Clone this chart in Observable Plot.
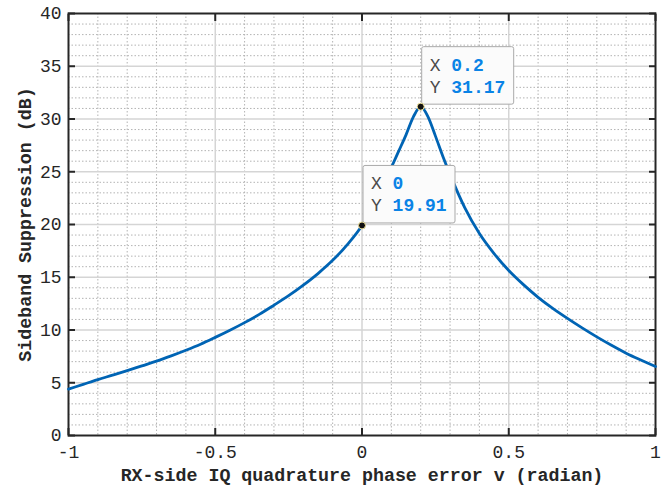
<!DOCTYPE html>
<html>
<head>
<meta charset="utf-8">
<script src="https://cdn.jsdelivr.net/npm/d3@7"></script>
<script src="https://cdn.jsdelivr.net/npm/@observablehq/plot@0.6"></script>
<style>
  html, body { margin: 0; padding: 0; background: #fff; }
  #chart svg { display: block; }
</style>
</head>
<body>
<div id="chart"></div>
<script>
// ---- data ----
const phaseError = [-1, -0.95, -0.9, -0.85, -0.8, -0.75, -0.7, -0.65, -0.6, -0.55, -0.5,
  -0.45, -0.4, -0.35, -0.3, -0.25, -0.2, -0.15, -0.1, -0.05, 0,
  0.05, 0.1, 0.125, 0.15, 0.175, 0.2, 0.225, 0.25, 0.275, 0.3, 0.35, 0.4,
  0.45, 0.5, 0.55, 0.6, 0.65, 0.7, 0.75, 0.8, 0.85, 0.9, 0.95, 1];
const suppression = [4.40, 4.85, 5.30, 5.72, 6.15, 6.60, 7.05, 7.55, 8.08, 8.65, 9.30,
  9.98, 10.70, 11.48, 12.35, 13.25, 14.25, 15.35, 16.60, 18.10, 19.91,
  22.50, 25.40, 26.95, 28.50, 30.20, 31.17, 30.20, 28.40, 26.50, 24.75, 21.60, 19.15,
  17.25, 15.64, 14.30, 13.10, 12.05, 11.10, 10.20, 9.35, 8.55, 7.80, 7.15, 6.54];

const xTicks = [-1, -0.5, 0, 0.5, 1];
const xTickLabels = ["-1", "-0.5", "0", "0.5", "1"];
const yTicks = [0, 5, 10, 15, 20, 25, 30, 35, 40];
const xMajorGrid = [-0.5, 0, 0.5];
const yMajorGrid = [5, 10, 15, 20, 25, 30, 35];
const xMinorGrid = [-0.9, -0.8, -0.7, -0.6, -0.4, -0.3, -0.2, -0.1, 0.1, 0.2, 0.3, 0.4, 0.6, 0.7, 0.8, 0.9];
const yMinorGrid = d3.range(1, 40).filter(v => v % 5 !== 0);

const tipX = [0.2, 0];
const tipY = [31.17, 19.91];
const tipXText = ["0.2", "0"];
const tipYText = ["31.17", "19.91"];

const xTitle = "RX-side IQ quadrature phase error v (radian)";
const yTitle = "Sideband Suppression (dB)";

// ---- tables built from the arrays ----
const curve = phaseError.map((x, i) => ({x, y: suppression[i]}));
const tips = tipX.map((x, i) => ({x, y: tipY[i], xs: tipXText[i], ys: tipYText[i]}));

const font = "'Liberation Mono', 'Courier New', monospace";
const ink = "#262626";

function tipBoxes(index, scales) {
  const g = d3.create("svg:g");
  tips.forEach(t => {
    const px = scales.x(t.x), py = scales.y(t.y);
    g.append("rect")
      .attr("x", px + 1.5).attr("y", py - 59.5)
      .attr("width", 92).attr("height", 57.5)
      .attr("rx", 2)
      .attr("fill", "#fbfbfb")
      .attr("stroke", "#a9a9a9")
      .attr("stroke-width", 1);
  });
  return g.node();
}

const chart = Plot.plot({
  width: 671,
  height: 488,
  marginLeft: 68,
  marginRight: 16,
  marginTop: 13,
  marginBottom: 53,
  style: {fontFamily: font, fontSize: "18px", color: ink, background: "#fff"},
  x: {domain: [-1, 1]},
  y: {domain: [0, 40]},
  marks: [
    Plot.ruleX(xMinorGrid, {stroke: "#b3b3b3", strokeWidth: 1, strokeDasharray: "1.5,2"}),
    Plot.ruleY(yMinorGrid, {stroke: "#b3b3b3", strokeWidth: 1, strokeDasharray: "1.5,2"}),
    Plot.ruleX(xMajorGrid, {stroke: "#d5d5d5", strokeWidth: 1.5}),
    Plot.ruleY(yMajorGrid, {stroke: "#d5d5d5", strokeWidth: 1.5}),
    Plot.axisX({anchor: "bottom", ticks: xTicks, tickFormat: (d) => xTickLabels[xTicks.indexOf(d)],
      tickSize: -7, tickPadding: 17, strokeWidth: 2, label: null, fontSize: 18, fill: ink}),
    Plot.axisX({anchor: "top", ticks: xTicks, tickFormat: () => "", tickSize: -7, strokeWidth: 2, label: null}),
    Plot.axisY({anchor: "left", ticks: yTicks, tickFormat: d => String(d),
      tickSize: -7, tickPadding: 14, strokeWidth: 2, label: null, fontSize: 18, fill: ink}),
    Plot.axisY({anchor: "right", ticks: yTicks, tickFormat: () => "", tickSize: -7, strokeWidth: 2, label: null}),
    Plot.frame({stroke: ink, strokeWidth: 2}),
    Plot.line(curve, {x: "x", y: "y", stroke: "#0064b4", strokeWidth: 2.8, curve: "monotone-x"}),
    tipBoxes,
    Plot.text(tips, {x: "x", y: "y", text: () => "X", dx: 9, dy: -36, textAnchor: "start", lineAnchor: "bottom",
      fill: "#4a4a4a", fontSize: 18, fontFamily: font}),
    Plot.text(tips, {x: "x", y: "y", text: () => "Y", dx: 9, dy: -14, textAnchor: "start", lineAnchor: "bottom",
      fill: "#4a4a4a", fontSize: 18, fontFamily: font}),
    Plot.text(tips, {x: "x", y: "y", text: "xs", dx: 30.6, dy: -36, textAnchor: "start", lineAnchor: "bottom",
      fill: "#0a83e6", fontSize: 18, fontWeight: "bold", fontFamily: font}),
    Plot.text(tips, {x: "x", y: "y", text: "ys", dx: 30.6, dy: -14, textAnchor: "start", lineAnchor: "bottom",
      fill: "#0a83e6", fontSize: 18, fontWeight: "bold", fontFamily: font}),
    Plot.dot(tips, {x: "x", y: "y", r: 3.5, fill: "#111", stroke: "#efe29a", strokeWidth: 1}),
    Plot.text([xTitle], {frameAnchor: "bottom", dy: 40, text: d => d, fontSize: 18.3, fontWeight: "bold",
      textAnchor: "middle", lineAnchor: "middle", fontFamily: font, fill: ink}),
    Plot.text([yTitle], {frameAnchor: "left", dx: -43, rotate: -90, text: d => d, fontSize: 18.3, fontWeight: "bold",
      textAnchor: "middle", lineAnchor: "middle", fontFamily: font, fill: ink})
  ]
});
document.getElementById("chart").appendChild(chart);
</script>
</body>
</html>
